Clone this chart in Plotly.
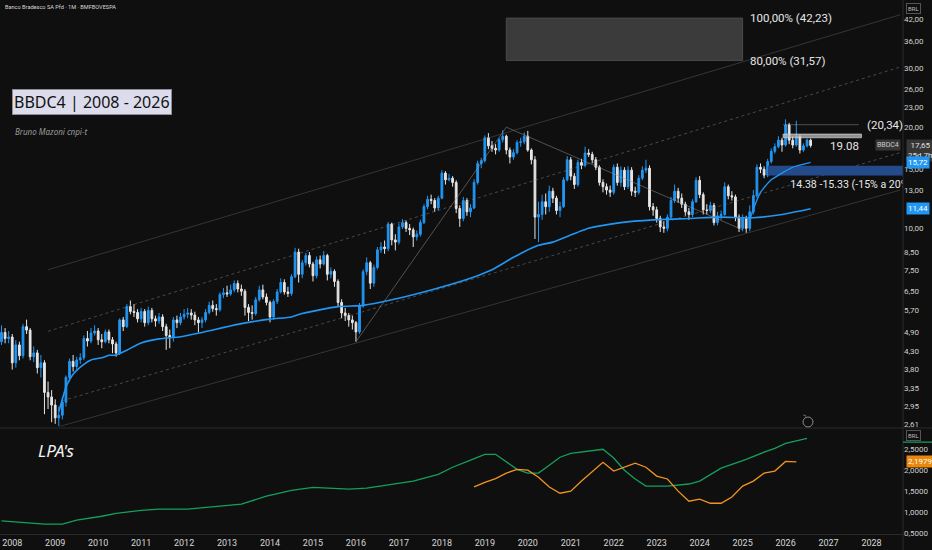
import math
import plotly.graph_objects as go

# monthly candles, first bar = 2007-10
FIRST_OPEN = 4.60
CLOSE = [
    4.90, 4.70, 4.75, 3.98, 4.50, 4.18, 5.10, 4.98, 4.15, 4.26, 3.85, 3.98,
    3.25, 3.15, 2.98, 2.73, 2.78, 3.04, 3.60, 4.02, 3.88, 4.06, 4.12, 4.70,
    4.62, 4.88, 4.95, 4.66, 4.60, 4.92, 4.66, 4.53, 4.26, 5.34, 5.10, 5.85,
    5.66, 5.62, 5.38, 5.66, 5.24, 5.70, 5.38, 5.30, 5.45, 5.10, 4.80, 4.74,
    5.34, 5.24, 5.45, 5.55, 5.60, 5.52, 5.34, 5.24, 5.34, 5.62, 5.90, 5.77,
    5.73, 6.35, 6.43, 6.38, 6.56, 6.85, 6.60, 6.50, 5.82, 5.62, 5.58, 6.13,
    6.56, 6.25, 6.02, 5.45, 6.06, 6.47, 6.90, 6.47, 6.40, 7.18, 8.50, 7.30,
    7.90, 8.30, 7.83, 7.23, 8.06, 7.83, 8.30, 7.30, 7.45, 6.95, 6.02, 5.60,
    5.50, 5.34, 5.24, 4.92, 5.88, 7.43, 7.90, 6.87, 7.65, 8.63, 8.80, 8.70,
    10.3, 9.24, 9.10, 10.1, 10.4, 10.0, 9.90, 9.43, 9.60, 10.4, 11.6, 12.2,
    12.1, 11.5, 12.3, 14.6, 13.94, 14.1, 13.7, 11.45, 10.7, 12.1, 11.2, 11.5,
    13.7, 15.6, 15.9, 18.6, 17.6, 17.3, 17.1, 18.34, 18.8, 17.1, 16.3, 16.8,
    18.0, 18.1, 18.8, 17.1, 16.0, 10.8, 11.0, 12.0, 11.6, 12.9, 12.3, 11.3,
    11.6, 13.94, 16.0, 14.3, 13.5, 15.7, 15.4, 16.75, 16.6, 16.0, 15.2, 13.7,
    13.3, 13.0, 12.8, 15.2, 13.7, 14.9, 13.3, 14.9, 12.9, 12.8, 14.1, 14.9,
    15.1, 11.6, 11.35, 10.7, 10.1, 10.0, 10.8, 12.1, 12.9, 12.3, 11.8, 11.2,
    11.0, 12.0, 13.9, 12.6, 11.35, 11.3, 11.7, 10.4, 10.9, 11.0, 13.3, 12.5,
    12.4, 10.8, 10.0, 10.7, 10.0, 11.2, 12.5, 15.2, 15.0, 14.4, 15.8, 16.95,
    17.5, 18.3, 17.7, 20.3, 18.3, 17.7, 18.8, 17.1, 17.6, 18.3, 17.65,
]
HIGH = [
    5.15, 5.05, 4.95, 4.85, 4.65, 4.60, 5.20, 5.35, 5.05, 4.45, 4.35, 4.20,
    4.05, 3.50, 3.30, 3.10, 2.95, 3.15, 3.65, 4.10, 4.20, 4.15, 4.25, 4.80,
    4.95, 5.05, 5.15, 5.05, 4.85, 5.00, 5.00, 4.75, 4.60, 5.40, 5.45, 5.95,
    6.10, 5.95, 5.75, 5.80, 5.75, 5.85, 5.80, 5.50, 5.60, 5.55, 5.20, 5.00,
    5.45, 5.50, 5.60, 5.75, 5.80, 5.75, 5.65, 5.45, 5.45, 5.75, 6.05, 6.10,
    5.95, 6.45, 6.65, 6.75, 6.80, 7.00, 7.00, 6.80, 6.60, 5.95, 5.90, 6.25,
    6.75, 6.80, 6.40, 6.10, 6.15, 6.60, 7.10, 7.05, 6.70, 7.30, 8.75, 8.70,
    8.05, 8.45, 8.50, 7.95, 8.25, 8.30, 8.55, 8.40, 7.65, 7.55, 7.05, 6.15,
    5.80, 5.60, 5.50, 5.30, 6.00, 7.55, 8.20, 8.00, 7.80, 8.80, 9.10, 9.20,
    10.45, 10.4, 9.60, 10.35, 10.65, 10.55, 10.3, 10.05, 9.85, 10.6, 11.8, 12.5,
    12.6, 12.3, 12.5, 14.9, 14.8, 14.5, 14.3, 13.9, 11.7, 12.4, 12.3, 11.8,
    14.0, 15.9, 16.2, 18.9, 19.2, 18.2, 17.8, 18.6, 19.6, 19.0, 17.4, 17.2,
    18.3, 18.6, 19.3, 19.5, 17.3, 16.4, 12.0, 12.6, 12.7, 13.4, 13.2, 12.5,
    12.0, 14.2, 16.4, 16.3, 14.6, 16.0, 16.1, 17.5, 17.2, 16.9, 16.3, 15.4,
    14.0, 13.6, 13.4, 15.5, 15.6, 15.3, 15.2, 15.3, 15.2, 13.3, 14.4, 15.3,
    16.0, 15.4, 11.9, 11.6, 10.9, 10.5, 11.0, 12.4, 13.5, 13.2, 12.7, 12.0,
    11.5, 12.2, 14.2, 14.3, 12.8, 11.8, 12.0, 11.9, 11.2, 11.3, 13.7, 13.5,
    12.9, 12.6, 11.0, 11.0, 10.9, 11.7, 13.0, 15.5, 15.6, 15.3, 16.1, 17.3,
    17.9, 18.8, 18.6, 21.1, 20.6, 18.8, 20.9, 19.0, 17.9, 18.5, 18.5,
]
LOW = [
    4.50, 4.55, 4.55, 3.80, 3.85, 4.05, 4.10, 4.85, 4.05, 4.00, 3.70, 3.60,
    2.80, 2.90, 2.65, 2.62, 2.58, 2.70, 2.95, 3.50, 3.75, 3.80, 3.95, 4.05,
    4.45, 4.55, 4.80, 4.50, 4.40, 4.55, 4.55, 4.25, 4.15, 4.20, 4.95, 5.05,
    5.55, 5.45, 5.25, 5.25, 5.10, 5.15, 5.25, 5.10, 5.20, 4.95, 4.35, 4.40,
    4.60, 5.05, 5.15, 5.35, 5.40, 5.35, 5.15, 4.90, 5.05, 5.25, 5.55, 5.65,
    5.50, 5.65, 6.20, 6.25, 6.30, 6.45, 6.45, 6.30, 5.50, 5.30, 5.35, 5.50,
    6.05, 6.15, 5.90, 5.25, 5.35, 5.95, 6.40, 6.35, 6.25, 6.30, 7.10, 6.90,
    7.10, 7.75, 7.65, 6.95, 7.10, 7.60, 7.75, 7.00, 7.10, 6.70, 5.85, 5.40,
    5.30, 5.10, 5.00, 4.60, 4.85, 5.80, 7.25, 6.60, 6.70, 7.55, 8.45, 8.40,
    8.55, 8.90, 8.60, 8.95, 9.95, 9.75, 9.55, 8.80, 9.20, 9.45, 10.3, 11.4,
    11.8, 11.2, 11.3, 12.2, 13.5, 13.8, 13.3, 11.1, 10.1, 10.5, 10.9, 10.8,
    11.4, 13.5, 15.1, 15.7, 17.2, 16.9, 16.6, 16.9, 18.0, 16.6, 15.6, 16.0,
    16.6, 17.5, 17.8, 16.9, 15.5, 9.30, 9.10, 10.6, 11.0, 11.2, 11.9, 11.0,
    10.8, 11.5, 13.8, 13.9, 13.1, 13.3, 15.0, 15.2, 16.3, 15.6, 14.9, 13.4,
    12.8, 12.6, 12.4, 12.6, 13.4, 13.3, 13.0, 13.1, 12.5, 12.4, 12.6, 13.9,
    14.6, 11.3, 10.9, 10.4, 9.75, 9.70, 9.80, 10.6, 11.9, 11.9, 11.5, 10.9,
    10.6, 10.8, 11.9, 12.3, 11.0, 11.0, 11.1, 10.2, 10.2, 10.6, 10.9, 12.2,
    12.1, 10.5, 9.75, 9.80, 9.70, 9.80, 11.0, 12.3, 14.6, 14.1, 14.2, 15.6,
    16.7, 17.3, 16.9, 17.5, 17.8, 17.3, 17.5, 16.7, 16.9, 17.4, 17.4,
]

# anchored VWAPs
VWAP_LONG_MONTHS = ["2009-02", "2009-03", "2009-04", "2009-05", "2009-06", "2009-07", "2009-09",
                    "2009-11", "2010-02", "2010-04", "2010-06", "2010-09", "2011-01", "2011-06",
                    "2011-12", "2012-06", "2013-04", "2014-01", "2014-07", "2014-10", "2015-08",
                    "2016-03", "2016-11", "2017-12", "2018-10", "2019-03", "2019-09", "2020-04",
                    "2020-08", "2021-06", "2022-03", "2022-12", "2023-10", "2024-07", "2025-04",
                    "2025-12", "2026-08"]
VWAP_LONG = [2.85, 3.10, 3.37, 3.54, 3.68, 3.78, 3.94, 4.06, 4.12, 4.19, 4.20, 4.34, 4.56, 4.69,
             4.76, 4.90, 5.18, 5.37, 5.45, 5.58, 5.85, 5.90, 6.13, 6.65, 7.17, 7.53, 8.20, 8.90,
             9.10, 10.0, 10.4, 10.6, 10.7, 10.8, 10.75, 11.0, 11.44]
VWAP_SHORT_MONTHS = ["2025-03", "2025-04", "2025-06", "2025-09", "2025-12", "2026-03", "2026-08"]
VWAP_SHORT = [10.6, 11.4, 12.8, 13.94, 14.6, 15.2, 15.72]

# LPA pane
GREEN_MONTHS = ["2007-10", "2008-03", "2008-10", "2009-03", "2009-07", "2010-02", "2010-06",
                "2011-01", "2011-06", "2012-02", "2012-09", "2013-05", "2013-12", "2014-07",
                "2015-01", "2015-07", "2015-11", "2016-04", "2016-11", "2017-05", "2017-12",
                "2018-04", "2018-09", "2019-01", "2019-04", "2019-07", "2019-10", "2020-01",
                "2020-04", "2020-07", "2020-10", "2021-01", "2021-06", "2021-10", "2022-01",
                "2022-04", "2022-07", "2022-10", "2023-04", "2023-07", "2023-10", "2024-01",
                "2024-04", "2024-07", "2024-10", "2025-02", "2025-07", "2025-10", "2026-01",
                "2026-07"]
GREEN = [0.79, 0.76, 0.71, 0.71, 0.81, 0.90, 0.97, 1.04, 1.07, 1.07, 1.12, 1.19, 1.38, 1.52,
         1.59, 1.57, 1.55, 1.57, 1.67, 1.74, 1.90, 2.07, 2.24, 2.38, 2.38, 2.19, 2.02, 1.93,
         1.93, 2.12, 2.31, 2.40, 2.45, 2.50, 2.29, 2.00, 1.79, 1.62, 1.62, 1.64, 1.67, 1.74,
         1.90, 2.05, 2.14, 2.26, 2.43, 2.52, 2.64, 2.76]
ORANGE_MONTHS = ["2018-10", "2019-01", "2019-04", "2019-07", "2019-10", "2020-01", "2020-04",
                 "2020-07", "2020-10", "2021-01", "2021-04", "2021-07", "2021-10", "2022-01",
                 "2022-04", "2022-07", "2022-10", "2023-01", "2023-04", "2023-07", "2023-10",
                 "2024-01", "2024-04", "2024-07", "2024-10", "2025-01", "2025-04", "2025-07",
                 "2025-10", "2026-01", "2026-04"]
ORANGE = [1.60, 1.71, 1.80, 1.93, 2.02, 2.00, 1.83, 1.60, 1.45, 1.50, 1.74, 1.97, 2.19, 1.98,
          2.07, 2.17, 2.07, 1.86, 1.79, 1.50, 1.26, 1.31, 1.21, 1.21, 1.36, 1.62, 1.74, 1.93,
          1.98, 2.21, 2.1979]

# drawings
CHANNEL_START = [("2008-11", 7.53), ("2008-11", 4.94), ("2009-03", 3.07), ("2009-02", 2.57)]
CHANNEL_END = [("2028-09", 43.2), ("2028-09", 30.2), ("2028-09", 16.8), ("2028-09", 13.0)]
ABC_MONTHS = ["2016-01", "2019-07", "2025-01"]
ABC_PRICES = [4.60, 20.0, 9.9]
FIB_LEVELS = [31.57, 42.23]
ZONE_BLUE = [14.38, 15.33]
ZONE_GRAY = [18.6, 19.08]
LEVEL_2034 = 20.34

YEARS = list(range(2008, 2029))
PRICE_TICKS = [2.61, 2.95, 3.35, 3.80, 4.30, 4.90, 5.70, 6.50, 7.50, 8.50, 10.0, 13.0, 15.0,
               20.0, 23.0, 26.0, 30.0, 36.0, 42.0]
LPA_TICKS = [0.5, 1.0, 1.5, 2.0, 2.5]


def month_idx(s):
    y, m = s.split("-")
    return (int(y) - 2007) * 12 + int(m) - 10


def br(v, nd=2):
    return f"{v:.{nd}f}".replace(".", ",")


BG = "#0f0f0f"
BLUE = "#2196f3"
WHITE = "#e6e6e6"

x = list(range(len(CLOSE)))
opens = [FIRST_OPEN] + CLOSE[:-1]

fig = go.Figure()

# channel lines
styles = [dict(color="rgba(110,110,110,0.4)", width=1),
          dict(color="rgba(130,130,130,0.5)", width=1, dash="dot"),
          dict(color="rgba(130,130,130,0.5)", width=1, dash="dot"),
          dict(color="rgba(110,110,110,0.4)", width=1)]
for (m0, p0), (m1, p1), st in zip(CHANNEL_START, CHANNEL_END, styles):
    fig.add_trace(go.Scatter(x=[month_idx(m0), month_idx(m1)], y=[p0, p1], mode="lines",
                             line=st, xaxis="x", yaxis="y"))

# A-B-C zigzag
fig.add_trace(go.Scatter(x=[month_idx(m) for m in ABC_MONTHS], y=ABC_PRICES, mode="lines",
                         line=dict(color="rgba(150,150,150,0.5)", width=1), yaxis="y"))

# fib extension box
b, c = month_idx(ABC_MONTHS[1]), month_idx(ABC_MONTHS[2])
fig.add_trace(go.Scatter(x=[b, c, c, b, b],
                         y=[FIB_LEVELS[0], FIB_LEVELS[0], FIB_LEVELS[1], FIB_LEVELS[1], FIB_LEVELS[0]],
                         mode="lines", fill="toself", fillcolor="#3b3b3b",
                         line=dict(color="#4a4a4a", width=1), yaxis="y"))

# blue zone
z0, z1 = 214.1, 253
fig.add_trace(go.Scatter(x=[z0, z1, z1, z0, z0],
                         y=[ZONE_BLUE[0], ZONE_BLUE[0], ZONE_BLUE[1], ZONE_BLUE[1], ZONE_BLUE[0]],
                         mode="lines", fill="toself", fillcolor="#244a8a",
                         line=dict(color="#244a8a", width=0.5), yaxis="y"))

# gray zone + 20,34 level
g0, g1 = 218.3, 240.2
fig.add_trace(go.Scatter(x=[g0, g1, g1, g0, g0],
                         y=[ZONE_GRAY[0], ZONE_GRAY[0], ZONE_GRAY[1], ZONE_GRAY[1], ZONE_GRAY[0]],
                         mode="lines", fill="toself", fillcolor="rgba(190,190,190,0.75)",
                         line=dict(color="rgba(220,220,220,0.8)", width=0.8), yaxis="y"))
fig.add_trace(go.Scatter(x=[g0, 239.5], y=[LEVEL_2034, LEVEL_2034], mode="lines",
                         line=dict(color="rgba(200,200,200,0.35)", width=1), yaxis="y"))

# candles
fig.add_trace(go.Candlestick(
    x=x, open=opens, high=HIGH, low=LOW, close=CLOSE,
    increasing=dict(line=dict(color=BLUE, width=1), fillcolor=BLUE),
    decreasing=dict(line=dict(color=WHITE, width=1), fillcolor=WHITE),
    whiskerwidth=0, xaxis="x", yaxis="y", hoverinfo="skip"))

# VWAPs
fig.add_trace(go.Scatter(x=[month_idx(m) for m in VWAP_LONG_MONTHS], y=VWAP_LONG, mode="lines",
                         line=dict(color=BLUE, width=1.6, shape="spline", smoothing=0.6), yaxis="y"))
fig.add_trace(go.Scatter(x=[month_idx(m) for m in VWAP_SHORT_MONTHS], y=VWAP_SHORT, mode="lines",
                         line=dict(color=BLUE, width=1.3, shape="spline", smoothing=0.6), yaxis="y"))

# clipped label of the blue zone
fig.add_trace(go.Scatter(x=[220.3], y=[13.45], mode="text", text=["14.38 -15.33 (-15% a 20%)"],
                         textposition="middle right",
                         textfont=dict(family="Roboto", size=10.6, color="#e8e8e8"),
                         cliponaxis=True, yaxis="y"))

# LPA pane
fig.add_trace(go.Scatter(x=[month_idx(m) for m in GREEN_MONTHS], y=GREEN, mode="lines",
                         line=dict(color="#14a05c", width=1.3), xaxis="x", yaxis="y2"))
fig.add_trace(go.Scatter(x=[month_idx(m) for m in ORANGE_MONTHS], y=ORANGE, mode="lines",
                         line=dict(color="#f2951f", width=1.3), xaxis="x", yaxis="y2"))

W, H = 903.0, 534.0


def px(v):
    return v / W


def py(v):
    return (H - v) / H


ann = []
txt = "#c8c8c8"
ann.append(dict(x=px(3), y=py(7), xref="paper", yref="paper", xanchor="left", yanchor="middle",
                text="Banco Bradesco SA Pfd · 1M · BMFBOVESPA", showarrow=False,
                font=dict(size=5.6, color="#d8d8d8")))
ann.append(dict(x=px(12), y=py(102.5), xref="paper", yref="paper", xanchor="left", yanchor="middle",
                text="BBDC4 | 2008 - 2026", showarrow=False, bgcolor="#dcdcec", bordercolor="#8c8c99",
                borderwidth=1, borderpad=1, font=dict(family="Noto Sans", size=16, color="#111111")))
ann.append(dict(x=px(13), y=py(131), xref="paper", yref="paper", xanchor="left", yanchor="middle",
                text="<i>Bruno Mazoni cnpi-t</i>", showarrow=False,
                font=dict(family="Noto Sans", size=8, color="#9c9c9c")))
ann.append(dict(x=px(36), y=py(450), xref="paper", yref="paper", xanchor="left", yanchor="middle",
                text="<i>LPA's</i>", showarrow=False,
                font=dict(family="Noto Sans", size=17, color="#f2f2f2")))

lbl = dict(family="Roboto", size=11.5, color="#e6e6e6")
ann.append(dict(x=208.4, y=math.log10(FIB_LEVELS[1]), xref="x", yref="y", xanchor="left",
                yanchor="middle", text=f"100,00% ({br(FIB_LEVELS[1])})", showarrow=False, font=lbl))
ann.append(dict(x=208.4, y=math.log10(FIB_LEVELS[0]), xref="x", yref="y", xanchor="left",
                yanchor="middle", text=f"80,00% ({br(FIB_LEVELS[0])})", showarrow=False, font=lbl))
ann.append(dict(x=241.3, y=math.log10(LEVEL_2034), xref="x", yref="y", xanchor="left",
                yanchor="middle", text=f"({br(LEVEL_2034)})", showarrow=False, font=lbl))
ann.append(dict(x=240.2, y=math.log10(17.55), xref="x", yref="y", xanchor="right",
                yanchor="middle", text=f"{ZONE_GRAY[1]:.2f}", showarrow=False, font=lbl))

# price-scale labels
ax_x = 1 + 2.5 / W
small = dict(family="Roboto", size=8, color="#ffffff")
ann.append(dict(x=ax_x, y=py(8), xref="paper", yref="paper", xanchor="left", yanchor="middle",
                text="BRL", showarrow=False, bordercolor="#555555", borderwidth=1, borderpad=1,
                font=dict(family="Roboto", size=6, color="#bbbbbb")))
ann.append(dict(x=ax_x, y=math.log10(CLOSE[-1]), xref="paper", yref="y", xanchor="left", yanchor="top",
                yshift=6, text=f"{br(CLOSE[-1])}<br>25d 7h", showarrow=False, bgcolor="#363636",
                borderpad=1, font=dict(family="Roboto", size=8, color="#e0e0e0")))
ann.append(dict(x=1 - 2 / W, y=math.log10(CLOSE[-1]), xref="paper", yref="y", xanchor="right",
                yanchor="middle", text="BBDC4", showarrow=False, bgcolor="#363636", borderpad=1,
                font=dict(family="Roboto", size=7, color="#cccccc")))
for v in (VWAP_SHORT[-1], VWAP_LONG[-1]):
    ann.append(dict(x=ax_x, y=math.log10(v), xref="paper", yref="y", xanchor="left", yanchor="middle",
                    text=br(v), showarrow=False, bgcolor=BLUE, borderpad=1, font=small))
ann.append(dict(x=ax_x, y=2.83, xref="paper", yref="y2", xanchor="left", yanchor="middle",
                text="BRL", showarrow=False, bordercolor="#555555", borderwidth=1, borderpad=1,
                font=dict(family="Roboto", size=6, color="#bbbbbb")))
ann.append(dict(x=ax_x, y=ORANGE[-1], xref="paper", yref="y2", xanchor="left", yanchor="middle",
                text=br(ORANGE[-1], 4), showarrow=False, bgcolor="#e8890c", borderpad=1, font=small))
ann.append(dict(x=px(808), y=py(422), xref="paper", yref="paper", text="ϟ", showarrow=False,
                font=dict(size=7, color="#9a9a9a")))

shapes = [
    dict(type="line", xref="paper", yref="paper", x0=0, x1=1 + 29 / W, y0=py(428), y1=py(428),
         line=dict(color="#2a2a2a", width=1)),
    dict(type="line", xref="paper", yref="paper", x0=1, x1=1, y0=-16 / H, y1=1,
         line=dict(color="#2a2a2a", width=1)),
    dict(type="line", xref="paper", yref="y2", x0=1, x1=1 + 29 / W, y0=2.67, y1=2.67,
         line=dict(color="#14a05c", width=1.2)),
    dict(type="circle", xref="paper", yref="paper", x0=px(803), x1=px(813), y0=py(427), y1=py(417),
         line=dict(color="#8a8a8a", width=1)),
]

fig.update_layout(
    width=932, height=550,
    margin=dict(l=0, r=29, t=0, b=16),
    paper_bgcolor=BG, plot_bgcolor=BG,
    showlegend=False, hovermode=False,
    font=dict(family="Roboto", color=txt),
    xaxis=dict(range=[-0.42, 251.8], anchor="y2", showgrid=False, zeroline=False,
               tickvals=[month_idx(f"{y}-01") for y in YEARS], ticktext=[str(y) for y in YEARS],
               tickfont=dict(size=9, color="#d6d6d6"), ticks="", showline=True, linecolor="#2a2a2a",
               rangeslider=dict(visible=False)),
    yaxis=dict(type="log", domain=[0.201, 1], side="right",
               range=[math.log10(2.57), math.log10(47.8)], showgrid=False, zeroline=False,
               tickvals=PRICE_TICKS, ticktext=[br(v) for v in PRICE_TICKS], ticks="",
               tickfont=dict(size=8, color="#d0d0d0"), anchor="x"),
    yaxis2=dict(domain=[0, 0.196], side="right", range=[0.476, 2.976], showgrid=False,
                zeroline=False, tickvals=LPA_TICKS, ticktext=[br(v, 4) for v in LPA_TICKS],
                ticks="", tickfont=dict(size=8, color="#d0d0d0"), anchor="x"),
    annotations=ann,
    shapes=shapes,
)

# the page body has an 8px default margin; drop it so the figure fills the window
fig.write_html("out.html", config={"displayModeBar": False},
               post_script="document.body.style.margin='0';")
